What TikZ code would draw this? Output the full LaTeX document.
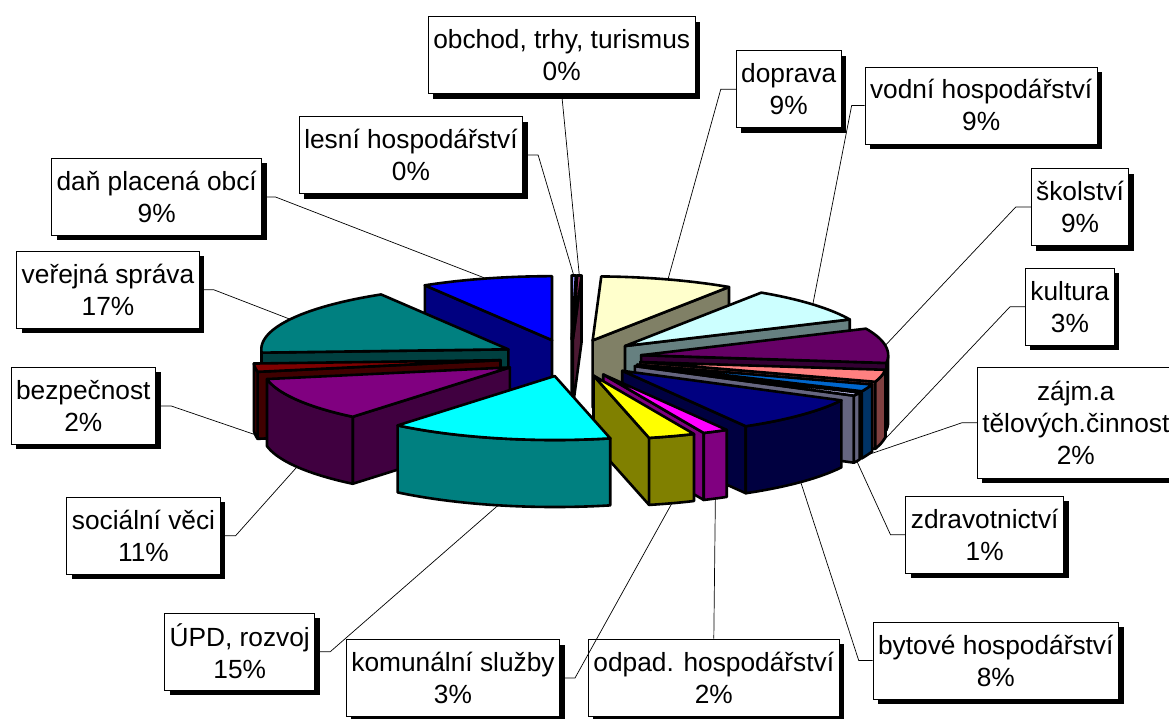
\documentclass[tikz,border=0pt]{standalone}
\usepackage{fontspec}
\setmainfont{Liberation Sans}
\usetikzlibrary{shadows}

\definecolor{periwinkle}{HTML}{9999FF}
\definecolor{plum}{HTML}{993366}
\definecolor{ivory}{HTML}{FFFFCC}
\definecolor{paleaqua}{HTML}{CCFFFF}
\definecolor{darkpurple}{HTML}{660066}
\definecolor{coral}{HTML}{FF8080}
\definecolor{ocean}{HTML}{0066CC}
\definecolor{lavender}{HTML}{CCCCFF}
\definecolor{navyblue}{HTML}{000080}
\definecolor{magentapie}{HTML}{FF00FF}
\definecolor{yellowpie}{HTML}{FFFF00}
\definecolor{aqua}{HTML}{00FFFF}
\definecolor{purplepie}{HTML}{800080}
\definecolor{maroonpie}{HTML}{800000}
\definecolor{tealpie}{HTML}{008080}
\definecolor{bluepie}{HTML}{0000FF}

% pie centre, radii, explosion and depth (px)
\newcommand{\pcx}{571}
\newcommand{\pcy}{358}
\newcommand{\prx}{247}
\newcommand{\pry}{64}
\newcommand{\pex}{71}
\newcommand{\pey}{18.5}
\newcommand{\pdh}{67}

% \pieslice{start}{end}{colour}{leader point}
\newcommand{\pieslice}[4]{%
  \pgfmathsetmacro{\midang}{(#1+#2)/2}%
  \pgfmathsetmacro{\apx}{\pcx+\pex*sin(\midang)}%
  \pgfmathsetmacro{\apy}{\pcy-\pey*cos(\midang)}%
  \pgfmathtruncatemacro{\endvis}{sin(#2)>0.001}%
  \pgfmathtruncatemacro{\startvis}{sin(#1)<-0.001}%
  \pgfmathsetmacro{\ta}{max(#1,90)}%
  \pgfmathsetmacro{\tb}{min(#2,270)}%
  \pgfmathtruncatemacro{\outvis}{\tb>\ta}%
  \pgfmathtruncatemacro{\front}{cos(\midang)<0}%
  \ifnum\endvis=1
    \filldraw[pie,fill=#3!50!black] (\apx,\apy) -- ({\apx+\prx*sin(#2)},{\apy-\pry*cos(#2)}) -- ++(0,\pdh) -- (\apx,{\apy+\pdh}) -- cycle;
  \fi
  \ifnum\startvis=1
    \filldraw[pie,fill=#3!50!black] (\apx,\apy) -- ({\apx+\prx*sin(#1)},{\apy-\pry*cos(#1)}) -- ++(0,\pdh) -- (\apx,{\apy+\pdh}) -- cycle;
  \fi
  \ifnum\outvis=1
    \filldraw[pie,fill=#3!50!black] plot[domain=\ta:\tb,samples=30] ({\apx+\prx*sin(\x)},{\apy-\pry*cos(\x)})
      -- plot[domain=\tb:\ta,samples=30] ({\apx+\prx*sin(\x)},{\apy-\pry*cos(\x)+\pdh}) -- cycle;
  \fi
  \filldraw[pie,fill=#3] (\apx,\apy) -- plot[domain=#1:#2,samples=40] ({\apx+\prx*sin(\x)},{\apy-\pry*cos(\x)}) -- cycle;
  \ifnum\front=1
    \coordinate (#4) at ({\apx+\prx*sin(\midang)},{\apy-\pry*cos(\midang)+\pdh});
  \else
    \coordinate (#4) at ({\apx+\prx*sin(\midang)},{\apy-\pry*cos(\midang)});
  \fi
}

\begin{document}
\begin{tikzpicture}[x=1pt,y=-1pt,
    pie/.style={draw=black,line width=2.6pt,line join=round},
    callout/.style={draw=black,line width=0.8pt,fill=white,align=center,inner xsep=5pt,inner ysep=2pt,
      minimum height=77pt,font=\fontsize{26.3}{32}\selectfont,
      drop shadow={shadow xshift=5pt,shadow yshift=-5pt,fill=black,opacity=1}},
    leader/.style={draw=black,line width=0.7pt}]
  \useasboundingbox (0,0) rectangle (1169,718);
  \fill[white] (0,0) rectangle (1169,718);

  % slices, back to front
  \pieslice{0}{1}{periwinkle}{lesni-pt}
  \pieslice{1}{2}{plum}{obchod-pt}
  \pieslice{329}{360}{bluepie}{dan-pt}
  \pieslice{2}{33.5}{ivory}{doprava-pt}
  \pieslice{33.5}{65.5}{paleaqua}{vodni-pt}
  \pieslice{267}{329}{tealpie}{sprava-pt}
  \pieslice{65.5}{97}{darkpurple}{skolstvi-pt}
  \pieslice{259.5}{267}{maroonpie}{bezpec-pt}
  \pieslice{97}{108}{coral}{kultura-pt}
  \pieslice{108}{114.5}{ocean}{zajm-pt}
  \pieslice{114.5}{117.5}{lavender}{zdrav-pt}
  \pieslice{219.5}{259.5}{purplepie}{socialni-pt}
  \pieslice{117.5}{150}{navyblue}{bytove-pt}
  \pieslice{150}{156}{magentapie}{odpad-pt}
  \pieslice{156}{167}{yellowpie}{komunal-pt}
  \pieslice{167}{219.5}{aqua}{upd-pt}

  % labels
  \node[callout] (obchod) at (561.7,55.3) {obchod, trhy, turismus\\0\%};
  \node[callout] (doprava) at (788.7,89.2) {doprava\\9\%};
  \node[callout] (vodni) at (981.2,105.4) {vodní hospodářství\\9\%};
  \node[callout] (lesni) at (411,155) {lesní hospodářství\\0\%};
  \node[callout] (dan) at (156.7,196.9) {daň placená obcí\\9\%};
  \node[callout] (skolstvi) at (1080,207) {školství\\9\%};
  \node[callout] (sprava) at (108,289.7) {veřejná správa\\17\%};
  \node[callout] (kultura) at (1069.9,306.7) {kultura\\3\%};
  \node[callout] (bezpec) at (83.3,405.9) {bezpečnost\\2\%};
  \node[callout,minimum height=111pt] (zajm) at (1075.8,422.8) {zájm.a\\tělových.činnost\\2\%};
  \node[callout] (socialni) at (143.5,535.8) {sociální věci\\11\%};
  \node[callout] (zdrav) at (984.7,534.7) {zdravotnictví\\1\%};
  \node[callout] (upd) at (239.7,651.7) {ÚPD, rozvoj\\15\%};
  \node[callout] (komunal) at (453,678) {komunální služby\\3\%};
  \node[callout] (odpad) at (713.8,677.5) {odpad. hospodářství\\2\%};
  \node[callout] (bytove) at (995.8,660.5) {bytové hospodářství\\8\%};

  % leader lines
  \draw[leader] (obchod.south) -- (obchod-pt);
  \draw[leader] (lesni.east) -- ++(15,0) -- (lesni-pt);
  \draw[leader] (doprava.west) -- ++(-15,0) -- (doprava-pt);
  \draw[leader] (vodni.west) -- ++(-13,0) -- (vodni-pt);
  \draw[leader] (skolstvi.west) -- ++(-15,0) -- (skolstvi-pt);
  \draw[leader] (kultura.west) -- ++(-15,0) -- (kultura-pt);
  \draw[leader] (zajm.west) -- ++(-15,0) -- (zajm-pt);
  \draw[leader] (zdrav.west) -- ++(-15,0) -- (zdrav-pt);
  \draw[leader] (bytove.west) -- ++(-14,0) -- (bytove-pt);
  \draw[leader] (odpad.north) -- (odpad-pt);
  \draw[leader] (komunal.east) -- ++(15,0) -- (komunal-pt);
  \draw[leader] (upd.east) -- ++(15,0) -- (upd-pt);
  \draw[leader] (socialni.east) -- ++(15,0) -- (socialni-pt);
  \draw[leader] (bezpec.east) -- ++(15,0) -- (bezpec-pt);
  \draw[leader] (sprava.east) -- ++(14,0) -- (sprava-pt);
  \draw[leader] (dan.east) -- ++(13,0) -- (dan-pt);
\end{tikzpicture}
\end{document}
